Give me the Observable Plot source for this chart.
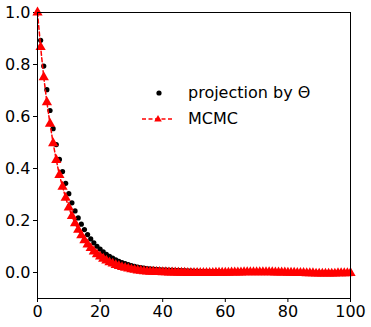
<!DOCTYPE html>
<html>
<head>
<meta charset="utf-8">
<script src="https://cdn.jsdelivr.net/npm/d3@7"></script>
<script src="https://cdn.jsdelivr.net/npm/@observablehq/plot@0.6"></script>
<style>
  html, body { margin: 0; padding: 0; background: #fff; }
  #wrap { position: relative; width: 371px; height: 327px; font-family: "DejaVu Sans", sans-serif; }
  #legend { position: absolute; left: 140px; top: 82px; font-size: 16px; color: #000; }
  .row { position: absolute; left: 0; height: 22px; white-space: nowrap; }
  .row svg { position: absolute; left: 0; top: 0; }
  .row span { position: absolute; left: 48px; top: 1px; line-height: 20px; }
</style>
</head>
<body>
<div id="wrap">
  <div id="chart"></div>
  <div id="legend">
    <div class="row" style="top:0px">
      <svg width="40" height="22"><circle cx="19" cy="11" r="2.6" fill="#000"/></svg>
      <span>projection by Θ</span>
    </div>
    <div class="row" style="top:26px">
      <svg width="40" height="22"><line x1="2" y1="11" x2="34" y2="11" stroke="red" stroke-width="1.5" stroke-dasharray="4,2.5"/><path d="M18,7 L21.8,13.5 L14.2,13.5 Z" fill="red"/></svg>
      <span>MCMC</span>
    </div>
  </div>
</div>
<script>
const seriesNames = ["projection by Θ", "MCMC"];
const xTicks = [0, 20, 40, 60, 80, 100];
const yTicks = [0.0, 0.2, 0.4, 0.6, 0.8, 1.0];

const projection = [
  1.000, 0.893, 0.794, 0.703, 0.623, 0.553, 0.492, 0.435, 0.388, 0.343,
  0.303, 0.268, 0.237, 0.210, 0.186, 0.165, 0.146, 0.129, 0.114, 0.101,
  0.090, 0.079, 0.070, 0.062, 0.055, 0.049, 0.043, 0.038, 0.034, 0.030,
  0.027, 0.024, 0.021, 0.019, 0.017, 0.015, 0.014, 0.013, 0.012, 0.011,
  0.010, 0.010, 0.009, 0.009, 0.008, 0.008, 0.007, 0.007, 0.006, 0.006,
  0.005, 0.005, 0.004, 0.004, 0.004, 0.003, 0.003, 0.003, 0.003, 0.002,
  0.002, 0.002, 0.002, 0.002, 0.003, 0.003, 0.003, 0.003, 0.003, 0.003,
  0.003, 0.003, 0.003, 0.003, 0.003, 0.002, 0.002, 0.002, 0.002, 0.001,
  0.001, 0.001, 0.000, 0.000, 0.000, -0.001, -0.001, -0.001, -0.001, -0.001,
  -0.001, -0.001, -0.001, -0.001, -0.001, -0.001, -0.001, -0.001, -0.001, -0.001,
  -0.001
];

const mcmc = [
  1.000, 0.867, 0.751, 0.655, 0.572, 0.497, 0.433, 0.375, 0.330, 0.287,
  0.250, 0.217, 0.189, 0.164, 0.143, 0.124, 0.108, 0.094, 0.081, 0.070,
  0.061, 0.053, 0.046, 0.039, 0.034, 0.029, 0.025, 0.021, 0.018, 0.015,
  0.012, 0.010, 0.008, 0.007, 0.005, 0.004, 0.003, 0.003, 0.002, 0.002,
  0.001, 0.001, 0.000, 0.000, 0.000, -0.001, -0.001, -0.001, -0.002, -0.002,
  -0.002, -0.002, -0.002, -0.002, -0.002, -0.002, -0.002, -0.001, -0.001, -0.001,
  -0.001, -0.001, 0.000, 0.000, 0.000, 0.000, 0.001, 0.001, 0.001, 0.001,
  0.001, 0.001, 0.001, 0.001, 0.001, 0.001, 0.000, 0.000, 0.000, 0.000,
  -0.001, -0.001, -0.001, -0.002, -0.002, -0.002, -0.003, -0.003, -0.003, -0.004,
  -0.004, -0.004, -0.004, -0.004, -0.004, -0.004, -0.003, -0.003, -0.003, -0.003,
  -0.002
];

const lag = projection.map((_, i) => i);
const projData = projection.map((v, i) => ({x: lag[i], y: v, s: seriesNames[0]}));
const mcmcData = mcmc.map((v, i) => ({x: lag[i], y: v, s: seriesNames[1]}));

const chart = Plot.plot({
  width: 371,
  height: 327,
  marginLeft: 37,
  marginRight: 21,
  marginTop: 12,
  marginBottom: 29,
  style: {fontFamily: "DejaVu Sans, sans-serif", fontSize: "16px", color: "#000", background: "#fff"},
  x: {domain: [0, 100], ticks: xTicks, tickSize: 4, tickPadding: 3, label: null, tickFormat: d3.format("d")},
  y: {domain: [-0.1, 1.0], ticks: yTicks, tickSize: 4, tickPadding: 3, label: null, tickFormat: d3.format(".1f")},
  marks: [
    Plot.dot(projData, {x: "x", y: "y", r: 2.6, fill: "#000", stroke: null}),
    Plot.line(mcmcData, {x: "x", y: "y", stroke: "red", strokeWidth: 1.5, strokeDasharray: "4,2.5"}),
    Plot.dot(mcmcData, {x: "x", y: "y", symbol: "triangle", r: 3.8, fill: "red", stroke: null}),
    Plot.frame({stroke: "#000", strokeWidth: 1})
  ]
});
document.getElementById("chart").appendChild(chart);
</script>
</body>
</html>
